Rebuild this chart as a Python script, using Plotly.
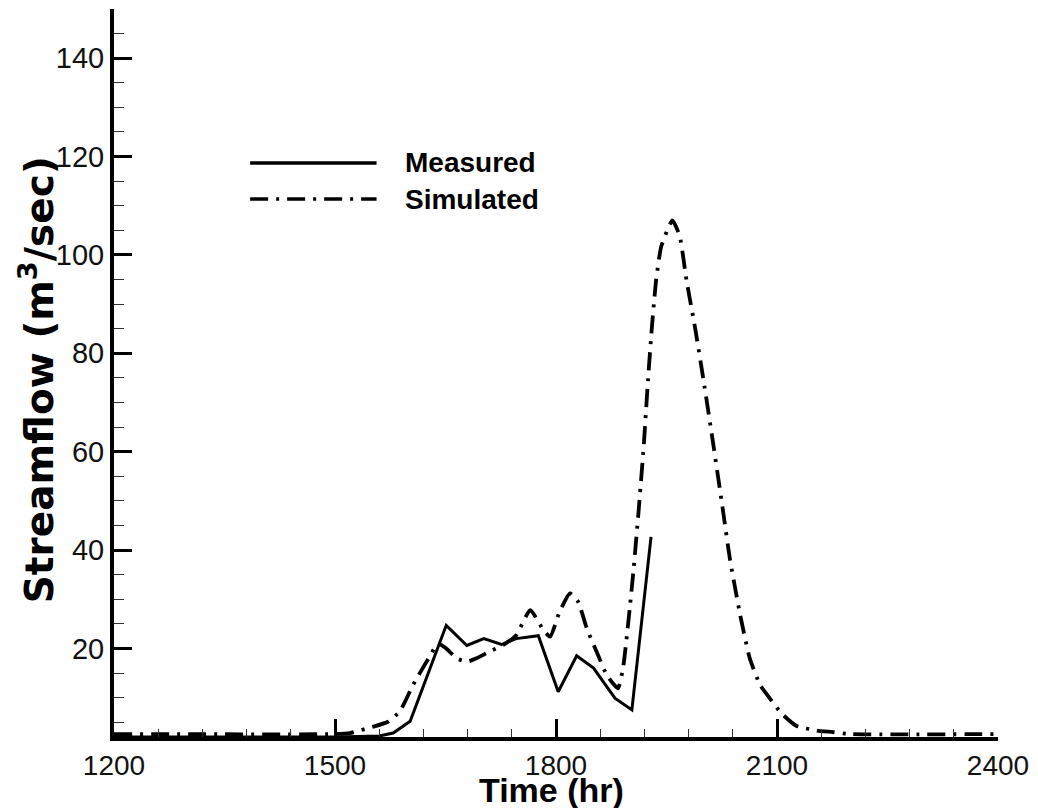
import plotly.graph_objects as go

# Observed streamflow record (hr, m3/s)
measured_time = [1200, 1500, 1560, 1579, 1602, 1651, 1679, 1702, 1726, 1746,
                 1776, 1803, 1828, 1851, 1880, 1903, 1929]
measured_flow = [2.0, 2.0, 2.2, 2.8, 5.2, 24.7, 20.6, 22.0, 20.8, 22.0,
                 22.6, 11.2, 18.5, 16.0, 9.9, 7.5, 42.7]

# Model output (hr, m3/s)
simulated_time = [1200, 1500, 1520, 1552, 1572, 1588, 1606, 1627, 1640, 1651,
                  1665, 1679, 1692, 1710, 1728, 1746, 1765, 1783, 1792, 1805,
                  1819, 1830, 1842, 1855, 1869, 1884, 1891, 1900, 1905, 1912,
                  1919, 1925, 1930, 1936, 1943, 1958, 1968, 1977, 1989, 2000,
                  2014, 2027, 2036, 2050, 2063, 2077, 2090, 2106, 2126, 2154,
                  2176, 2200, 2400]
simulated_flow = [2.6, 2.6, 2.8, 4.1, 5.1, 7.2, 12.6, 18.0, 21.0, 20.0,
                  18.0, 17.3, 18.0, 19.4, 20.7, 22.7, 27.8, 23.7, 22.4, 27.5,
                  31.2, 29.5, 24.0, 19.4, 14.6, 11.9, 16.0, 28.0, 35.6, 47.7,
                  61.0, 74.8, 85.0, 95.0, 101.8, 107.0, 103.8, 95.0, 85.0, 74.8,
                  61.0, 47.7, 38.3, 26.8, 18.0, 12.6, 9.9, 6.8, 4.3, 3.3,
                  3.0, 2.6, 2.6]

x_ticks = [1200, 1500, 1800, 2100, 2400]
y_ticks = [20, 40, 60, 80, 100, 120, 140]

DASHDOT = "18px,8px,3px,8px"
FONT = "Liberation Sans, Arial, Helvetica, sans-serif"
WIDE_FONT = "DejaVu Sans, Liberation Sans, sans-serif"

fig = go.Figure()
fig.add_trace(go.Scatter(x=simulated_time, y=simulated_flow, mode="lines",
                         name="Simulated",
                         line=dict(color="black", width=3.8, dash=DASHDOT,
                                   shape="spline", smoothing=0.5)))
fig.add_trace(go.Scatter(x=measured_time, y=measured_flow, mode="lines",
                         name="Measured",
                         line=dict(color="black", width=3)))

# Legend block: line samples plus labels
legend_rows = [("Measured", "solid", 0.7885), ("Simulated", DASHDOT, 0.739)]
for label, dash, yp in legend_rows:
    fig.add_shape(type="line", xref="paper", yref="paper",
                  x0=0.154, x1=0.297, y0=yp, y1=yp,
                  line=dict(color="black", width=3.5, dash=dash))
    fig.add_annotation(xref="paper", yref="paper", x=0.327, y=yp,
                       text=f"<b>{label}</b>", showarrow=False,
                       xanchor="left", yanchor="middle",
                       font=dict(family=FONT, size=28, color="black"))

fig.add_annotation(xref="paper", yref="paper", x=0.495, y=0, yshift=-53,
                   text="<b>Time (hr)</b>", showarrow=False,
                   xanchor="center", yanchor="middle",
                   font=dict(family=FONT, size=34, color="black"))
fig.add_annotation(xref="paper", yref="paper", x=0, xshift=-77, y=0.49,
                   text="<b>Streamflow (m<sup>3</sup>/sec)</b>", showarrow=False,
                   textangle=-90, xanchor="center", yanchor="middle",
                   font=dict(family=WIDE_FONT, size=39, color="black"))

fig.update_xaxes(range=[1200, 2400], tickvals=x_ticks,
                 ticks="inside", ticklen=18, tickwidth=2.5, tickcolor="black",
                 showline=True, linewidth=4, linecolor="black",
                 showgrid=False, zeroline=False,
                 tickfont=dict(family=FONT, size=28, color="#111"),
                 minor=dict(dtick=60, tick0=1200, ticks="inside", ticklen=8,
                            tickwidth=1.3, tickcolor="#333", showgrid=False))
fig.update_yaxes(range=[2, 150], tickvals=y_ticks,
                 ticks="inside", ticklen=18, tickwidth=2.5, tickcolor="black",
                 showline=True, linewidth=4, linecolor="black",
                 showgrid=False, zeroline=False,
                 tickfont=dict(family=FONT, size=29, color="#111"),
                 minor=dict(dtick=5, tick0=0, ticks="inside", ticklen=10,
                            tickwidth=1.3, tickcolor="#333", showgrid=False))

fig.update_layout(width=1038, height=808,
                  margin=dict(l=114, r=37, t=9, b=71),
                  paper_bgcolor="white", plot_bgcolor="white",
                  showlegend=False)

fig.write_html("out.html")
